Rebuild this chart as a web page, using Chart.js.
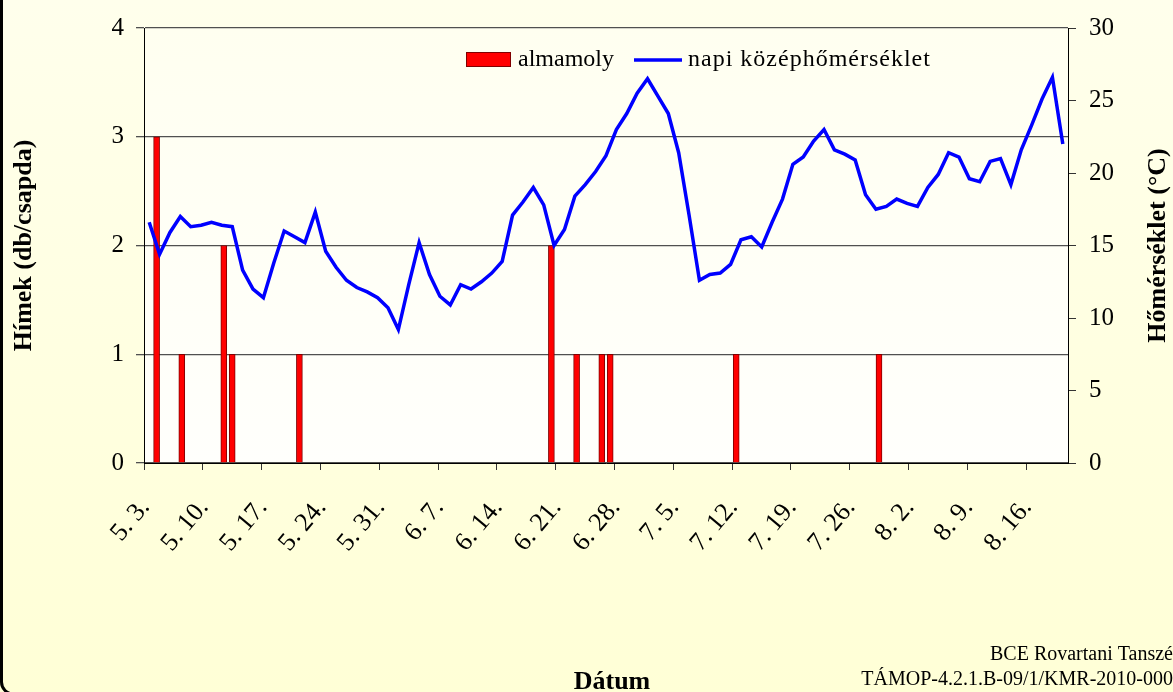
<!DOCTYPE html>
<html><head><meta charset="utf-8">
<script src="https://cdn.jsdelivr.net/npm/chart.js@4/dist/chart.umd.min.js"></script>
<style>html,body{margin:0;padding:0;background:#FFFFE8;}canvas{display:block;}</style>
</head><body>
<canvas id="c" width="1173" height="692"></canvas>
<script>
// Daily categories (5. 3. – 8. 20.)
const categories = [
"5. 3.","5. 4.","5. 5.","5. 6.","5. 7.","5. 8.","5. 9.","5. 10.","5. 11.","5. 12.","5. 13.","5. 14.","5. 15.","5. 16.","5. 17.","5. 18.","5. 19.","5. 20.","5. 21.","5. 22.","5. 23.","5. 24.","5. 25.","5. 26.","5. 27.","5. 28.","5. 29.","5. 30.","5. 31.",
"6. 1.","6. 2.","6. 3.","6. 4.","6. 5.","6. 6.","6. 7.","6. 8.","6. 9.","6. 10.","6. 11.","6. 12.","6. 13.","6. 14.","6. 15.","6. 16.","6. 17.","6. 18.","6. 19.","6. 20.","6. 21.","6. 22.","6. 23.","6. 24.","6. 25.","6. 26.","6. 27.","6. 28.","6. 29.","6. 30.",
"7. 1.","7. 2.","7. 3.","7. 4.","7. 5.","7. 6.","7. 7.","7. 8.","7. 9.","7. 10.","7. 11.","7. 12.","7. 13.","7. 14.","7. 15.","7. 16.","7. 17.","7. 18.","7. 19.","7. 20.","7. 21.","7. 22.","7. 23.","7. 24.","7. 25.","7. 26.","7. 27.","7. 28.","7. 29.","7. 30.","7. 31.",
"8. 1.","8. 2.","8. 3.","8. 4.","8. 5.","8. 6.","8. 7.","8. 8.","8. 9.","8. 10.","8. 11.","8. 12.","8. 13.","8. 14.","8. 15.","8. 16.","8. 17.","8. 18.","8. 19.","8. 20."
];
// Labels shown on the date axis
const tickLabels = ["5. 3.","5. 10.","5. 17.","5. 24.","5. 31.","6. 7.","6. 14.","6. 21.","6. 28.","7. 5.","7. 12.","7. 19.","7. 26.","8. 2.","8. 9.","8. 16."];
// almamoly (males per trap), one value per category
const catches = [
0,3,0,0,1,0,0,0,0,2,
1,0,0,0,0,0,0,0,1,0,
0,0,0,0,0,0,0,0,0,0,
0,0,0,0,0,0,0,0,0,0,
0,0,0,0,0,0,0,0,2,0,
0,1,0,0,1,1,0,0,0,0,
0,0,0,0,0,0,0,0,0,0,
1,0,0,0,0,0,0,0,0,0,
0,0,0,0,0,0,0,1,0,0,
0,0,0,0,0,0,0,0,0,0,
0,0,0,0,0,0,0,0,0,0
];
// napi középhőmérséklet (°C)
const temperature = [
16.6,14.4,15.9,17.0,16.3,16.4,16.6,16.4,16.3,13.3,
12.0,11.4,13.8,16.0,15.6,15.2,17.3,14.6,13.5,12.6,
12.1,11.8,11.4,10.7,9.2,12.3,15.2,13.0,11.5,10.9,
12.3,12.0,12.5,13.1,13.9,17.1,18.0,19.0,17.8,15.0,
16.1,18.4,19.2,20.1,21.2,23.0,24.1,25.5,26.5,25.3,
24.1,21.4,17.1,12.6,13.0,13.1,13.7,15.4,15.6,14.9,
16.6,18.2,20.6,21.1,22.2,23.0,21.6,21.3,20.9,18.5,
17.5,17.7,18.2,17.9,17.7,19.0,19.9,21.4,21.1,19.6,
19.4,20.8,21.0,19.2,21.6,23.3,25.1,26.6,22.0
];
const seriesNames = ["almamoly","napi középhőmérséklet"];
const axisTitles = {left:"Hímek (db/csapda)", right:"Hőmérséklet (°C)", bottom:"Dátum"};
const footnotes = ["BCE Rovartani Tanszé","TÁMOP-4.2.1.B-09/1/KMR-2010-000"];

const tempLabels = temperature.map((_, i) => String(i + 1));
const FONT = "'Liberation Serif','Times New Roman',serif";

const decor = {
  id: 'decor',
  beforeDraw(chart) {
    const {ctx, chartArea: a, width, height} = chart;
    ctx.save();
    let g = ctx.createLinearGradient(0, 0, 0, height);
    g.addColorStop(0, '#FFFFEC'); g.addColorStop(1, '#FFFFD6');
    ctx.fillStyle = g; ctx.fillRect(0, 0, width, height);
    let g2 = ctx.createLinearGradient(0, a.top, 0, a.bottom);
    g2.addColorStop(0, '#FFFFF0'); g2.addColorStop(1, '#FFFFFC');
    ctx.fillStyle = g2; ctx.fillRect(a.left, a.top, a.right - a.left, a.bottom - a.top);
    ctx.restore();
  },
  afterDraw(chart) {
    const {ctx, chartArea: a} = chart;
    const ds = chart.data.datasets;
    ctx.save();
    // legend
    ctx.font = '24px ' + FONT;
    ctx.textBaseline = 'middle';
    ctx.fillStyle = ds[0].backgroundColor;
    ctx.fillRect(466, 52, 45, 15);
    ctx.strokeStyle = ds[0].borderColor; ctx.lineWidth = 1;
    ctx.strokeRect(466.5, 52.5, 44, 14);
    ctx.fillStyle = '#000';
    ctx.textAlign = 'left';
    ctx.fillText(ds[0].label, 518, 60);
    ctx.strokeStyle = ds[1].borderColor; ctx.lineWidth = 3.5;
    ctx.beginPath(); ctx.moveTo(634, 60); ctx.lineTo(682, 60); ctx.stroke();
    ctx.letterSpacing = '1px';
    ctx.fillText(ds[1].label, 688, 60);
    ctx.letterSpacing = '0px';
    // axis titles
    const cy = (a.top + a.bottom) / 2;
    ctx.font = 'bold 26px ' + FONT;
    ctx.textAlign = 'center';
    ctx.save(); ctx.translate(24, cy); ctx.rotate(-Math.PI / 2); ctx.fillText(axisTitles.left, 0, 0); ctx.restore();
    ctx.save(); ctx.translate(1158, cy); ctx.rotate(-Math.PI / 2); ctx.fillText(axisTitles.right, 0, 0); ctx.restore();
    ctx.textBaseline = 'alphabetic';
    ctx.fillText(axisTitles.bottom, 612, 689);
    // footnotes
    ctx.textBaseline = 'middle';
    ctx.font = '20px ' + FONT;
    ctx.textAlign = 'right';
    ctx.fillText(footnotes[0], 1173, 655);
    ctx.fillText(footnotes[1], 1173, 680);
    // slide frame
    ctx.strokeStyle = '#000'; ctx.lineWidth = 3;
    ctx.beginPath(); ctx.roundRect(1.5, -40, 1400, 734, 12); ctx.stroke();
    ctx.restore();
  }
};

new Chart(document.getElementById('c'), {
  data: {
    labels: categories,
    datasets: [
      {type: 'bar', label: seriesNames[0], data: catches, xAxisID: 'x', yAxisID: 'y',
       backgroundColor: '#FF0000', borderColor: '#800000', borderWidth: 1,
       barThickness: 6, grouped: false, order: 2},
      {type: 'line', label: seriesNames[1], data: temperature, xAxisID: 'x2', yAxisID: 'y2',
       borderColor: '#0000FF', borderWidth: 3.5, pointRadius: 0, tension: 0, fill: false, order: 1}
    ]
  },
  options: {
    responsive: false, animation: false, devicePixelRatio: 1,
    layout: {padding: {top: 24, left: 0, right: 0, bottom: 0}},
    plugins: {legend: {display: false}, tooltip: {enabled: false}},
    scales: {
      x: {
        type: 'category', position: 'bottom', offset: true,
        grid: {offset: true, drawOnChartArea: false, drawTicks: true, tickLength: 7,
               color: (c) => (c.index % 7 === 0 ? '#333' : 'rgba(0,0,0,0)')},
        border: {display: true, color: '#000', width: 1},
        ticks: {autoSkip: false, minRotation: 50, maxRotation: 50, padding: 23, labelOffset: -3,
                color: '#000', font: {family: FONT, size: 26},
                callback: function (v) { const l = this.getLabelForValue(v); return tickLabels.includes(l) ? l : ''; }},
        afterFit: (s) => { s.height = 229; }
      },
      x2: {type: 'category', labels: tempLabels, offset: true, display: false},
      y: {
        position: 'left', min: 0, max: 4,
        ticks: {stepSize: 1, padding: 12, color: '#000', font: {family: FONT, size: 25}},
        grid: {color: '#505050', lineWidth: 1.3, tickLength: 8},
        border: {color: '#000', width: 1},
        afterFit: (s) => { s.width = 144; }
      },
      y2: {
        position: 'right', min: 0, max: 30,
        ticks: {stepSize: 5, padding: 13, color: '#000', font: {family: FONT, size: 25}},
        grid: {drawOnChartArea: false, color: '#333', tickLength: 8},
        border: {color: '#000', width: 1},
        afterFit: (s) => { s.width = 105; }
      }
    }
  },
  plugins: [decor]
});
</script>
</body></html>
